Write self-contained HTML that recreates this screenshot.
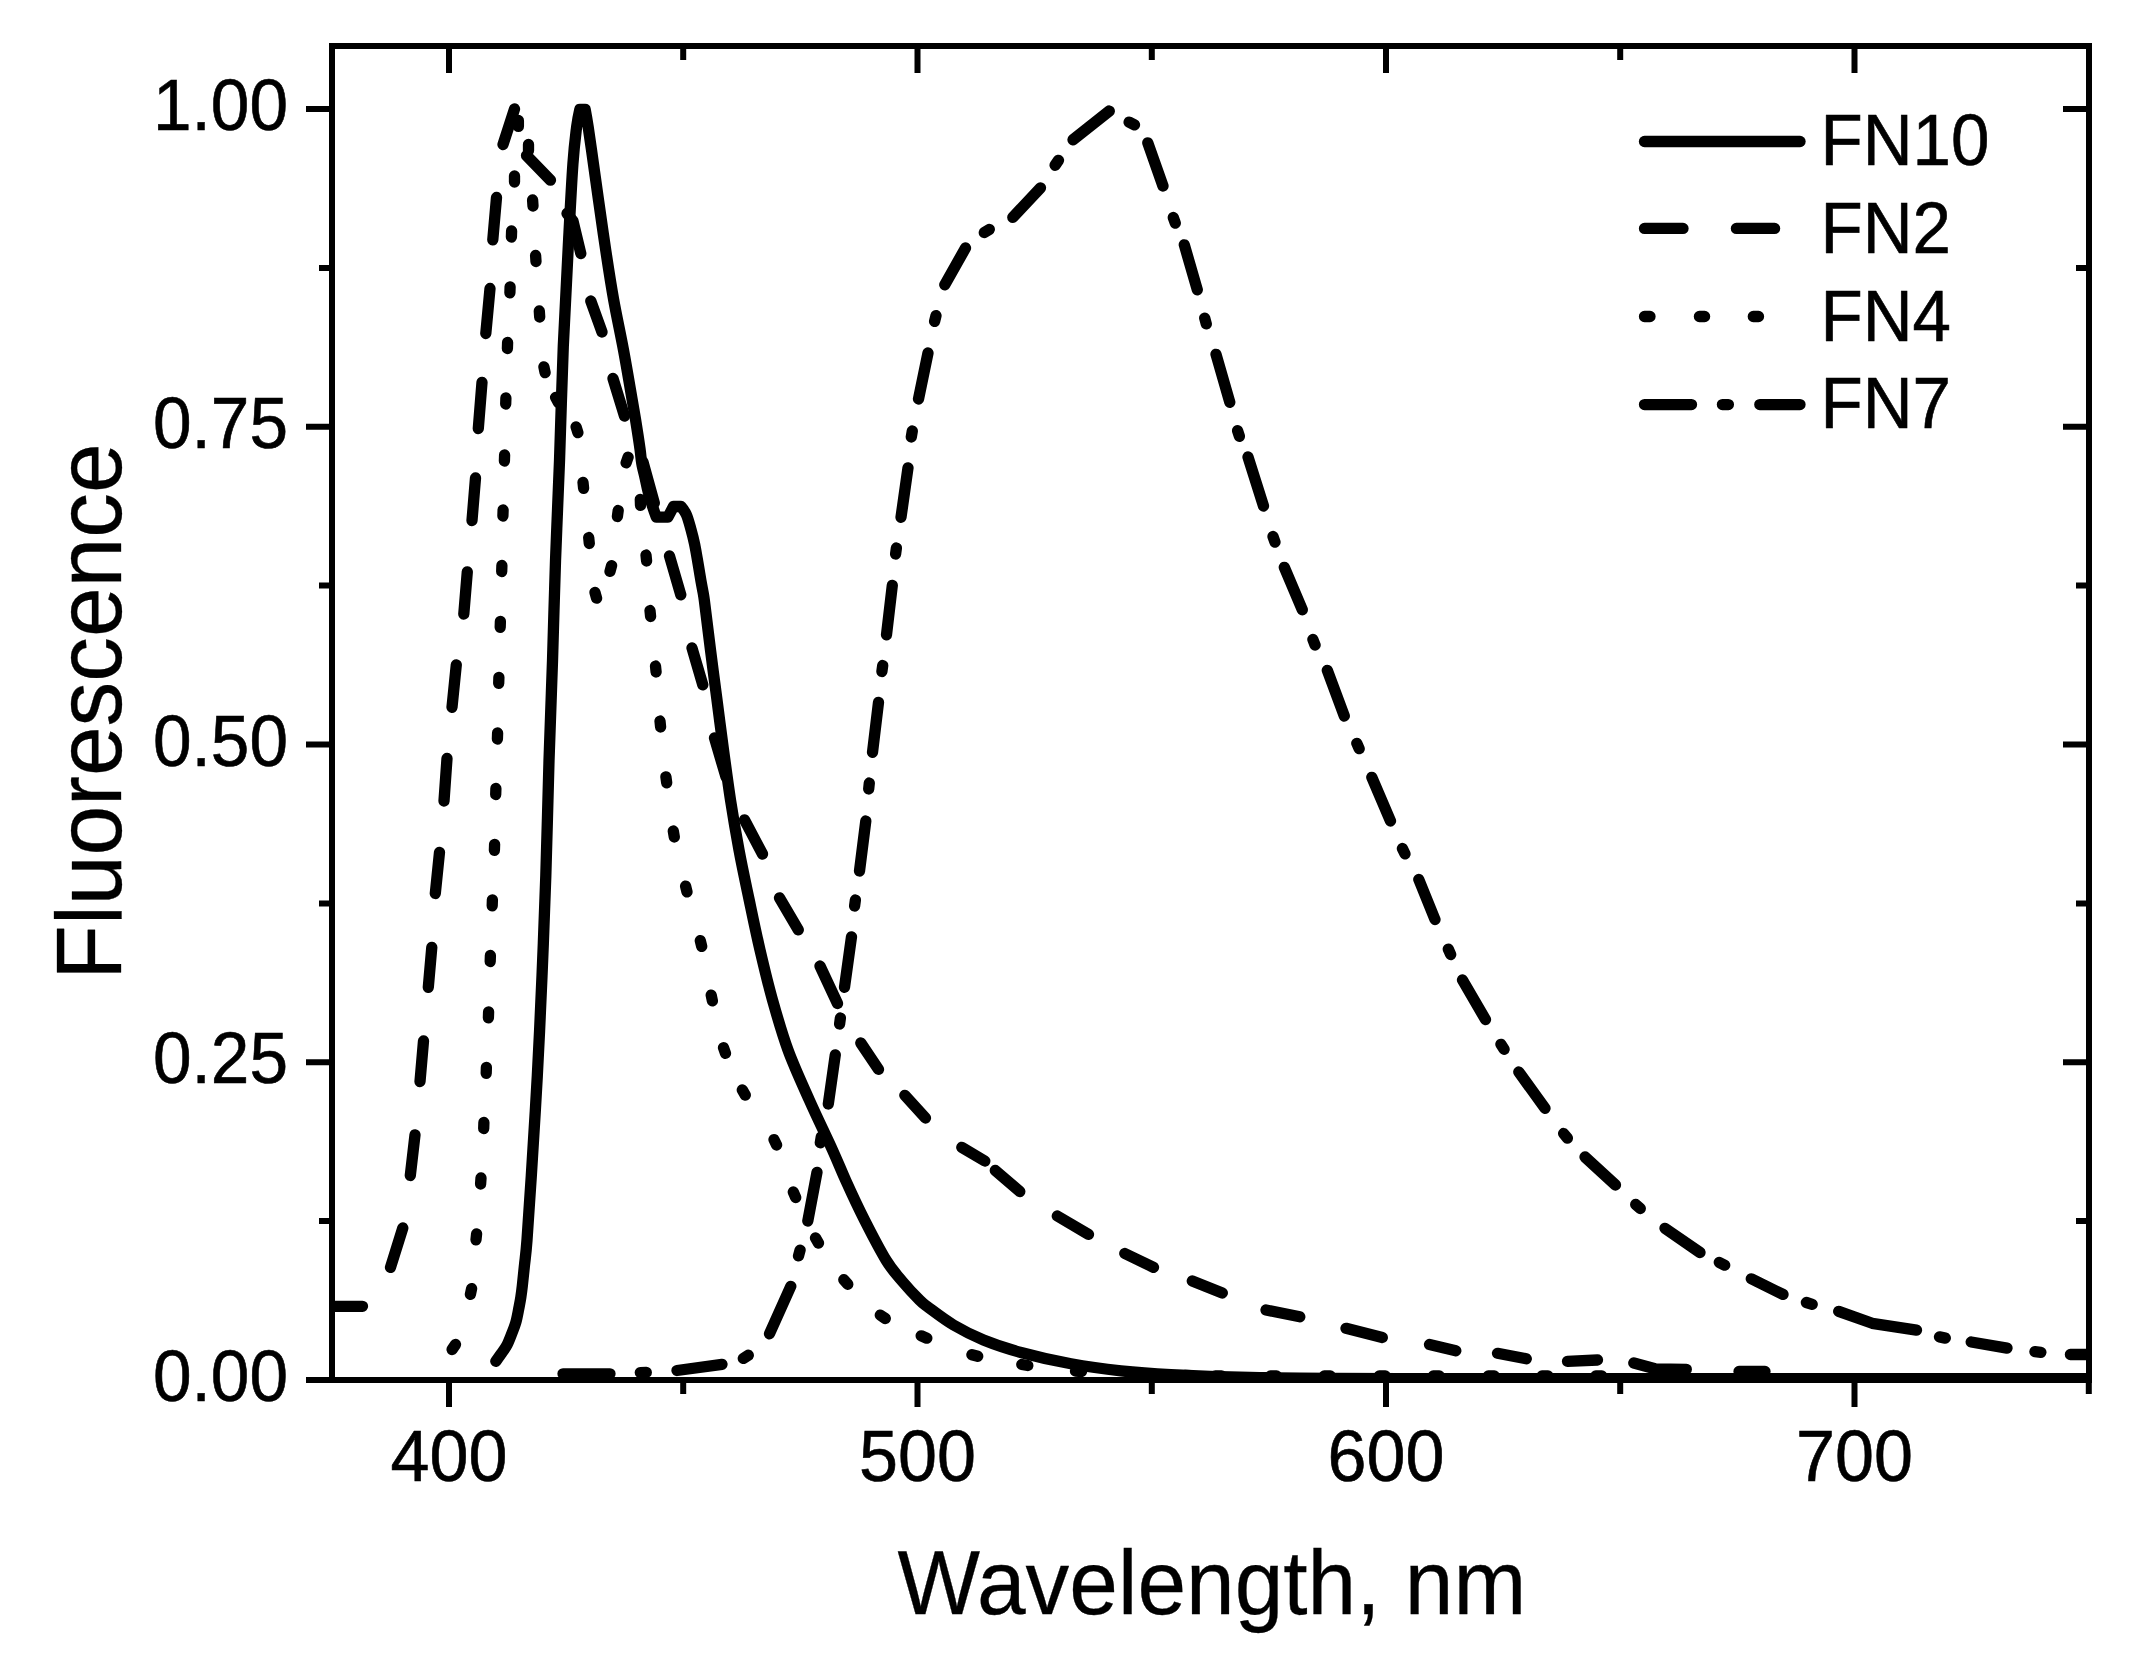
<!DOCTYPE html>
<html lang="en"><head><meta charset="utf-8"><title>Fluorescence spectra</title>
<style>
html,body{margin:0;padding:0;background:#fff;}
body{width:2156px;height:1659px;overflow:hidden;}
svg{display:block;}
</style></head><body>
<svg width="2156" height="1659" viewBox="0 0 2156 1659">
<rect width="2156" height="1659" fill="#fff"/>
<defs><clipPath id="plot"><rect x="332" y="46" width="1757" height="1337"/></clipPath></defs>
<g clip-path="url(#plot)" fill="none" stroke="#000" stroke-width="11.3" stroke-linecap="round" stroke-linejoin="round">
<path d="M495.8 1361.3 C496.7 1360.1 499.1 1356.7 501.0 1354.0 C502.9 1351.3 505.2 1348.5 507.0 1345.0 C508.8 1341.5 510.5 1336.8 512.0 1333.0 C513.5 1329.2 514.7 1326.3 515.8 1322.5 C516.9 1318.7 517.7 1314.2 518.5 1310.0 C519.3 1305.8 520.2 1301.5 520.8 1297.5 C521.4 1293.5 521.7 1291.4 522.3 1286.0 C522.9 1280.6 523.7 1272.7 524.5 1265.0 C525.3 1257.3 525.9 1254.8 527.0 1240.0 C528.1 1225.2 529.6 1203.3 531.3 1176.0 C533.0 1148.7 535.5 1109.3 537.3 1076.0 C539.1 1042.7 540.6 1009.3 542.0 976.0 C543.4 942.7 544.6 911.8 545.8 876.0 C547.0 840.2 547.9 796.8 549.0 761.0 C550.1 725.2 551.4 694.3 552.5 661.0 C553.6 627.7 554.3 594.3 555.5 561.0 C556.7 527.7 558.2 496.8 559.5 461.0 C560.8 425.2 561.8 381.8 563.3 346.0 C564.8 310.2 566.7 276.3 568.3 246.0 C569.9 215.7 571.5 184.0 572.9 164.2 C574.3 144.4 575.5 136.2 576.6 127.1 C577.8 118.0 579.8 109.5 579.8 109.5 C579.8 109.5 585.2 109.5 585.2 109.5 C585.2 109.5 586.8 118.0 588.2 127.1 C589.6 136.2 591.8 152.0 593.5 164.2 C595.2 176.3 596.5 185.7 598.5 200.0 C600.5 214.3 603.2 233.3 605.7 250.0 C608.2 266.7 610.7 283.3 613.7 300.0 C616.7 316.7 620.4 333.3 623.5 350.0 C626.6 366.7 630.2 388.3 632.2 400.0 C634.2 411.7 634.3 411.9 635.6 420.0 C636.9 428.1 639.0 441.7 640.0 448.9 C641.0 456.1 640.9 458.6 641.8 463.4 C642.6 468.2 644.0 473.1 645.1 477.9 C646.2 482.7 647.0 487.5 648.3 492.3 C649.6 497.1 651.4 502.7 652.7 506.8 C654.0 510.9 656.3 517.1 656.3 517.1 C656.3 517.1 667.9 517.1 667.9 517.1 C667.9 517.1 673.5 506.5 673.5 506.5 C673.5 506.5 681.0 506.5 681.0 506.5 C681.0 506.5 684.6 510.7 686.3 514.5 C688.0 518.3 689.6 524.4 691.0 529.4 C692.4 534.4 693.6 539.3 694.6 544.2 C695.6 549.1 696.4 554.0 697.3 559.0 C698.2 564.0 698.9 568.9 699.8 573.9 C700.6 578.9 701.6 584.4 702.4 588.7 C703.1 593.1 702.9 589.8 704.3 600.0 C705.6 610.2 708.4 633.3 710.5 650.0 C712.6 666.7 714.8 683.3 717.0 700.0 C719.2 716.7 721.2 733.3 723.5 750.0 C725.8 766.7 727.9 783.3 730.5 800.0 C733.1 816.7 735.9 833.3 739.0 850.0 C742.1 866.7 745.7 883.3 749.2 900.0 C752.7 916.7 756.1 933.3 760.0 950.0 C763.9 966.7 767.8 983.3 772.5 1000.0 C777.2 1016.7 781.9 1033.3 788.0 1050.0 C794.1 1066.7 801.9 1083.3 809.3 1100.0 C816.7 1116.7 826.4 1136.5 832.5 1150.0 C838.6 1163.5 840.7 1169.3 846.0 1181.0 C851.3 1192.7 857.8 1206.8 864.5 1220.0 C871.2 1233.2 879.8 1249.8 886.0 1260.0 C892.2 1270.2 896.4 1274.3 902.0 1281.0 C907.6 1287.7 915.1 1295.6 919.5 1300.0 C923.9 1304.4 922.8 1303.3 928.5 1307.5 C934.2 1311.7 944.3 1319.6 953.5 1325.0 C962.7 1330.4 972.2 1335.4 983.5 1340.0 C994.8 1344.6 1006.4 1348.5 1021.0 1352.5 C1035.6 1356.5 1054.3 1360.8 1071.0 1363.8 C1087.7 1366.8 1104.3 1369.0 1121.0 1370.8 C1137.7 1372.6 1149.5 1373.5 1171.0 1374.6 C1192.5 1375.7 1211.8 1376.6 1250.0 1377.3 C1288.2 1378.0 1259.2 1378.4 1400.0 1378.6 C1540.8 1378.8 1979.2 1378.6 2095.0 1378.6"/>
<path d="M326.0 1306.3 L362.5 1306.3 M390.5 1267.4 L402.8 1228.0 M410.3 1175.5 L415.0 1134.8 M420.0 1081.5 L423.5 1041.0 M428.3 987.3 L431.8 947.3 M435.3 893.5 L439.5 852.3 M444.0 801.0 L447.0 758.5 M452.0 707.3 L456.3 664.8 M463.8 614.0 L467.3 571.8 M472.0 520.5 L475.5 478.0 M478.3 428.5 L482.0 382.3 M485.8 333.5 L490.0 288.5 M492.8 239.8 L496.5 197.5 M503.0 144.5 L514.5 109.0 M526.5 155.5 L550.5 180.2 M567.0 213.5 L573.0 221.0 L580.8 253.5 M590.8 301.0 L602.0 332.0 M613.0 378.5 L624.5 416.0 M643.0 462.0 L654.3 503.0 M669.5 556.0 L680.8 594.8 M692.0 648.0 L702.8 684.8 M714.5 738.0 L726.0 777.0 M744.5 819.8 L762.5 854.0 M779.5 897.8 L798.3 929.8 M820.0 966.0 L837.5 1003.5 M860.8 1043.0 L878.5 1069.3 M904.8 1095.3 L925.5 1118.0 M961.8 1147.3 L984.8 1161.0 M995.3 1170.5 L1019.8 1191.5 M1057.3 1216.0 L1088.5 1234.3 M1124.8 1253.5 L1153.5 1267.3 M1192.3 1281.0 L1222.3 1293.0 M1266.0 1310.0 L1299.8 1316.8 M1346.0 1328.3 L1382.3 1337.5 M1429.5 1344.5 L1455.8 1350.8 M1497.5 1353.3 L1526.3 1358.8 M1567.5 1361.3 L1597.5 1360.0 M1633.8 1363.0 L1655.0 1368.8 L1686.3 1369.3 M1739.0 1371.5 L1765.0 1371.5"/>
<path d="M452.1 1349.5 L455.5 1344.5 M470.4 1294.4 L471.6 1288.6 M476.0 1239.8 L476.6 1233.8 M480.6 1184.0 L481.0 1178.0 M483.7 1128.5 L483.9 1122.5 M486.2 1073.3 L486.4 1067.3 M488.4 1017.8 L488.6 1011.8 M490.2 961.5 L490.4 955.5 M492.2 905.8 L492.4 899.8 M494.4 850.3 L494.6 844.3 M495.7 794.5 L495.9 788.5 M497.4 739.0 L497.6 733.0 M498.7 683.3 L498.9 677.3 M500.2 627.3 L500.4 621.3 M501.7 571.5 L501.9 565.5 M502.9 516.0 L503.1 510.0 M504.4 461.0 L504.6 455.0 M505.7 404.0 L505.9 398.0 M507.4 348.5 L507.6 342.5 M509.9 292.8 L510.1 286.8 M511.4 237.0 L511.6 231.0 M514.5 176.0 L514.5 182.0 M518.4 120.4 L518.4 126.4 M528.5 144.5 L528.5 150.5 M532.6 200.0 L533.0 206.0 M535.6 255.5 L536.0 261.5 M539.3 311.0 L539.7 317.0 M543.9 366.9 L545.1 372.7 M555.6 397.4 L558.4 402.6 M576.1 426.9 L577.9 432.7 M583.0 482.3 L583.6 488.3 M588.7 537.5 L589.3 543.5 M595.0 592.4 L596.6 598.2 M610.0 571.4 L611.6 565.6 M617.4 516.5 L618.2 510.5 M626.1 462.8 L628.1 457.2 M640.3 499.4 L640.5 505.4 M646.0 555.0 L646.6 561.0 M650.0 610.5 L650.6 616.5 M655.5 666.0 L656.1 672.0 M660.0 721.0 L660.6 727.0 M665.9 776.8 L666.7 782.8 M673.3 831.0 L674.3 837.0 M685.6 886.1 L687.0 891.9 M700.3 940.6 L701.7 946.4 M711.2 995.1 L712.4 1000.9 M723.5 1047.7 L725.5 1053.3 M742.3 1089.9 L745.3 1095.1 M774.0 1139.6 L776.6 1145.0 M793.3 1192.0 L795.7 1197.6 M815.5 1237.9 L818.5 1243.1 M843.8 1279.7 L847.8 1284.3 M880.3 1315.1 L885.3 1318.5 M921.2 1335.8 L926.8 1338.2 M971.9 1354.7 L977.7 1356.3 M1021.8 1364.5 L1027.8 1365.5 M1075.5 1371.1 L1081.5 1371.5 M1130.0 1373.9 L1136.0 1374.1 M1185.0 1375.4 L1191.0 1375.6 M1215.5 1376.0 L1221.5 1376.0 M1270.5 1376.0 L1276.5 1376.0 M1324.3 1376.0 L1330.3 1376.0 M1379.3 1376.0 L1385.3 1376.0 M1433.3 1376.0 L1439.3 1376.0 M1488.3 1376.0 L1494.3 1376.0 M1542.0 1376.0 L1548.0 1376.0 M1595.8 1376.0 L1601.8 1376.0"/>
<path d="M563.0 1373.8 L610.0 1373.8 M640.3 1372.6 L646.3 1372.4 M677.0 1370.5 L722.0 1364.3 M743.3 1358.4 L748.3 1355.2 M769.5 1333.8 L790.8 1286.3 M798.5 1255.9 L800.1 1250.1 M807.8 1221.0 L817.0 1172.3 M820.3 1142.8 L821.3 1136.8 M828.3 1104.0 L835.3 1054.8 M839.6 1024.0 L840.4 1018.0 M844.5 987.3 L851.5 936.8 M854.6 906.0 L855.4 900.0 M859.5 871.0 L865.8 821.0 M868.7 789.0 L869.3 783.0 M872.5 752.3 L878.5 702.3 M881.9 671.5 L882.7 665.5 M886.5 634.8 L892.3 585.3 M895.6 554.0 L896.4 548.0 M901.0 517.3 L908.0 467.8 M911.3 437.0 L912.3 431.0 M918.5 399.0 L928.0 353.0 M934.6 321.4 L936.0 315.6 M944.8 284.8 L965.5 248.0 M984.3 232.6 L989.3 229.4 M1012.8 217.3 L1040.5 187.8 M1055.1 165.3 L1058.5 160.3 M1073.0 139.8 L1109.3 111.0 M1129.1 122.2 L1134.5 124.8 M1147.8 142.8 L1163.0 186.0 M1173.3 217.5 L1175.3 223.1 M1184.3 244.8 L1197.3 289.8 M1204.7 318.1 L1206.3 323.9 M1216.0 354.3 L1229.8 402.3 M1237.6 430.7 L1239.4 436.3 M1248.0 457.0 L1263.5 506.0 M1273.0 536.5 L1275.0 542.1 M1284.3 567.3 L1302.3 609.8 M1312.9 639.5 L1315.1 645.1 M1327.3 670.3 L1344.3 716.0 M1356.8 743.3 L1359.2 748.7 M1371.8 777.3 L1390.5 821.0 M1402.4 848.5 L1405.0 853.9 M1418.8 879.5 L1435.0 919.5 M1448.3 949.1 L1450.7 954.5 M1462.5 980.0 L1485.5 1019.5 M1500.9 1044.3 L1504.1 1049.3 M1518.8 1072.0 L1545.0 1108.3 M1563.6 1133.5 L1567.4 1138.1 M1585.0 1157.0 L1615.5 1185.0 M1635.7 1204.5 L1640.3 1208.5 M1665.0 1228.3 L1700.0 1252.5 M1719.3 1262.4 L1724.7 1265.2 M1751.3 1278.8 L1783.0 1294.4 M1806.4 1302.5 L1812.2 1304.3 M1838.7 1311.4 L1872.2 1323.3 L1916.5 1330.1 M1939.5 1336.9 L1945.3 1338.1 M1971.2 1342.0 L2007.0 1348.1 M2034.9 1351.7 L2040.9 1352.3 M2070.4 1354.5 L2095.0 1354.5"/>
</g>
<g stroke="#000" stroke-width="6" fill="none" stroke-linecap="butt">
<path d="M332 1383 V45 M329 46 H2092 M2089 43 V1383 M306 1380 H2092"/>
<path d="M449.0 1383 v24 M449.0 49 v24 M683.2 1383 v11 M683.2 49 v11 M917.5 1383 v24 M917.5 49 v24 M1151.8 1383 v11 M1151.8 49 v11 M1386.0 1383 v24 M1386.0 49 v24 M1620.2 1383 v11 M1620.2 49 v11 M1854.5 1383 v24 M1854.5 49 v24 M2088.8 1383 v11 M329 1221.1 h-10 M2086 1221.1 h-10 M329 1062.2 h-23 M2086 1062.2 h-23 M329 903.4 h-10 M2086 903.4 h-10 M329 744.5 h-23 M2086 744.5 h-23 M329 585.6 h-10 M2086 585.6 h-10 M329 426.8 h-23 M2086 426.8 h-23 M329 267.9 h-10 M2086 267.9 h-10 M329 109.0 h-23 M2086 109.0 h-23"/>
</g>
<g font-family="'Liberation Sans', Arial, sans-serif" fill="#000" stroke="#000" stroke-width="0.6">
<text transform="translate(288.0 1401.0) scale(0.9630 1)" font-size="72.0" text-anchor="end">0.00</text>
<text transform="translate(288.0 1083.2) scale(0.9630 1)" font-size="72.0" text-anchor="end">0.25</text>
<text transform="translate(288.0 765.5) scale(0.9630 1)" font-size="72.0" text-anchor="end">0.50</text>
<text transform="translate(288.0 447.8) scale(0.9630 1)" font-size="72.0" text-anchor="end">0.75</text>
<text transform="translate(288.0 130.0) scale(0.9630 1)" font-size="72.0" text-anchor="end">1.00</text>
<text transform="translate(449.0 1481.0) scale(0.9730 1)" font-size="72.0" text-anchor="middle">400</text>
<text transform="translate(917.5 1481.0) scale(0.9730 1)" font-size="72.0" text-anchor="middle">500</text>
<text transform="translate(1386.0 1481.0) scale(0.9730 1)" font-size="72.0" text-anchor="middle">600</text>
<text transform="translate(1854.5 1481.0) scale(0.9730 1)" font-size="72.0" text-anchor="middle">700</text>
<text transform="translate(1212.0 1613.6) scale(0.9720 1)" font-size="90.0" text-anchor="middle" stroke-width="0.3">Wavelength, nm</text>
<text transform="translate(121.0 711.5) rotate(-90) scale(0.9610 1)" font-size="93.0" text-anchor="middle" stroke-width="0.3">Fluorescence</text>
<text transform="translate(1820.5 165.0) scale(0.9600 1)" font-size="72.0" text-anchor="start">FN10</text>
<text transform="translate(1820.5 252.8) scale(0.9600 1)" font-size="72.0" text-anchor="start">FN2</text>
<text transform="translate(1820.5 340.6) scale(0.9600 1)" font-size="72.0" text-anchor="start">FN4</text>
<text transform="translate(1820.5 428.4) scale(0.9600 1)" font-size="72.0" text-anchor="start">FN7</text>
</g>
<g fill="none" stroke="#000" stroke-width="11.3" stroke-linecap="round">
<path d="M1644.5 141.5 H1800.0"/>
<path d="M1644.5 228.4 h38.5 M1736.4 228.4 h38.2"/>
<path d="M1644.5 316.5 h5.5 M1699.4 316.5 h5.2 M1753.3 316.5 h5.2"/>
<path d="M1644.5 404.6 h47 M1722.4 404.6 h6 M1759.8 404.6 H1800.0"/>
</g>
</svg>
</body></html>
